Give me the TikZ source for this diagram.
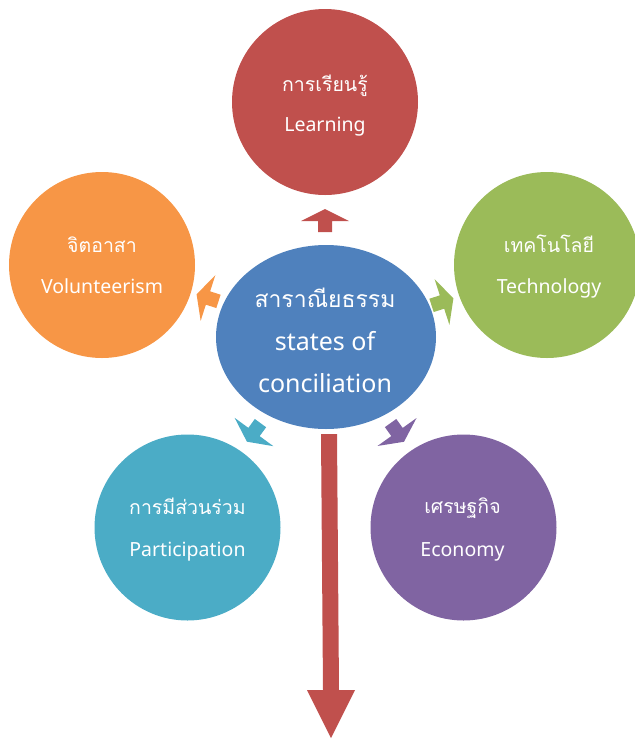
\documentclass[tikz,border=0pt]{standalone}
\usepackage{fontspec}
\setmainfont{Noto Sans}
\newfontfamily\thaifont[Script=Thai]{Loma}
\usetikzlibrary{shapes.geometric}
\definecolor{cred}{HTML}{C0504D}
\definecolor{corange}{HTML}{F79646}
\definecolor{cgreen}{HTML}{9BBB59}
\definecolor{cblue}{HTML}{4F81BD}
\definecolor{cteal}{HTML}{4BACC6}
\definecolor{cpurple}{HTML}{8064A2}
\newcommand\smallblockarrow[4]{%
  \fill[#4,shift={(#1,#2)},rotate=#3] (12,0) -- (0,24) -- (0,7) -- (-11,7) -- (-11,-7) -- (0,-7) -- (0,-24) -- cycle;}
\begin{document}
\begin{tikzpicture}[x=1pt,y=-1pt,
  bubble/.style={circle,minimum size=186pt,inner sep=0pt,draw=none,fill=#1},
  lat/.style={text=white,anchor=base,inner sep=0pt,font=\fontsize{19.5}{19.5}\selectfont},
  tha/.style={text=white,anchor=base,inner sep=0pt,font=\fontsize{19.5}{19.5}\selectfont\thaifont},
  biglat/.style={text=white,anchor=base,inner sep=0pt,font=\fontsize{25}{25}\selectfont},
  bigtha/.style={text=white,anchor=base,inner sep=0pt,font=\fontsize{23}{23}\selectfont\thaifont}]
\useasboundingbox (0,0) rectangle (635,740);
% circles
\node[bubble=cred] (learn) at (325,102) {};
\node[bubble=corange] (volun) at (102,265) {};
\node[bubble=cgreen] (tech) at (547,265) {};
\node[bubble=cteal] (part) at (187.5,527.5) {};
\node[bubble=cpurple] (econ) at (463.5,527.5) {};
\node[ellipse,fill=cblue,minimum width=220pt,minimum height=184pt,inner sep=0pt] (centre) at (326,337) {};
% small arrows
\smallblockarrow{325}{221}{90}{cred}
\smallblockarrow{208}{298}{162.2}{corange}
\smallblockarrow{442}{302}{18}{cgreen}
\smallblockarrow{254}{432}{233.8}{cteal}
\smallblockarrow{397}{432}{-54.4}{cpurple}
% big down arrow
\coordinate (bigtop) at (329,434);
\coordinate (bigtip) at (331,738);
\fill[cred] (321,434) -- (337,434) -- (339,690) -- (355,690) -- (bigtip) -- (307,690) -- (323,690) -- cycle;
% texts
\node[tha] (learnT) at (325,91) {การเรียนรู้};
\node[lat] (learnE) at (325,131) {Learning};
\node[tha] (volunT) at (102,252) {จิตอาสา};
\node[lat] (volunE) at (102,293) {Volunteerism};
\node[tha] (techT) at (549,252) {เทคโนโลยี};
\node[lat] (techE) at (549,293) {Technology};
\node[tha] (partT) at (187.5,514) {การมีส่วนร่วม};
\node[lat] (partE) at (187.5,556) {Participation};
\node[tha] (econT) at (462.5,513) {เศรษฐกิจ};
\node[lat] (econE) at (462.5,556) {Economy};
\node[bigtha] (centreT) at (325,307) {สาราณียธรรม};
\node[biglat] (centreE1) at (325,350) {states of};
\node[biglat] (centreE2) at (325,392) {conciliation};
\end{tikzpicture}
\end{document}
